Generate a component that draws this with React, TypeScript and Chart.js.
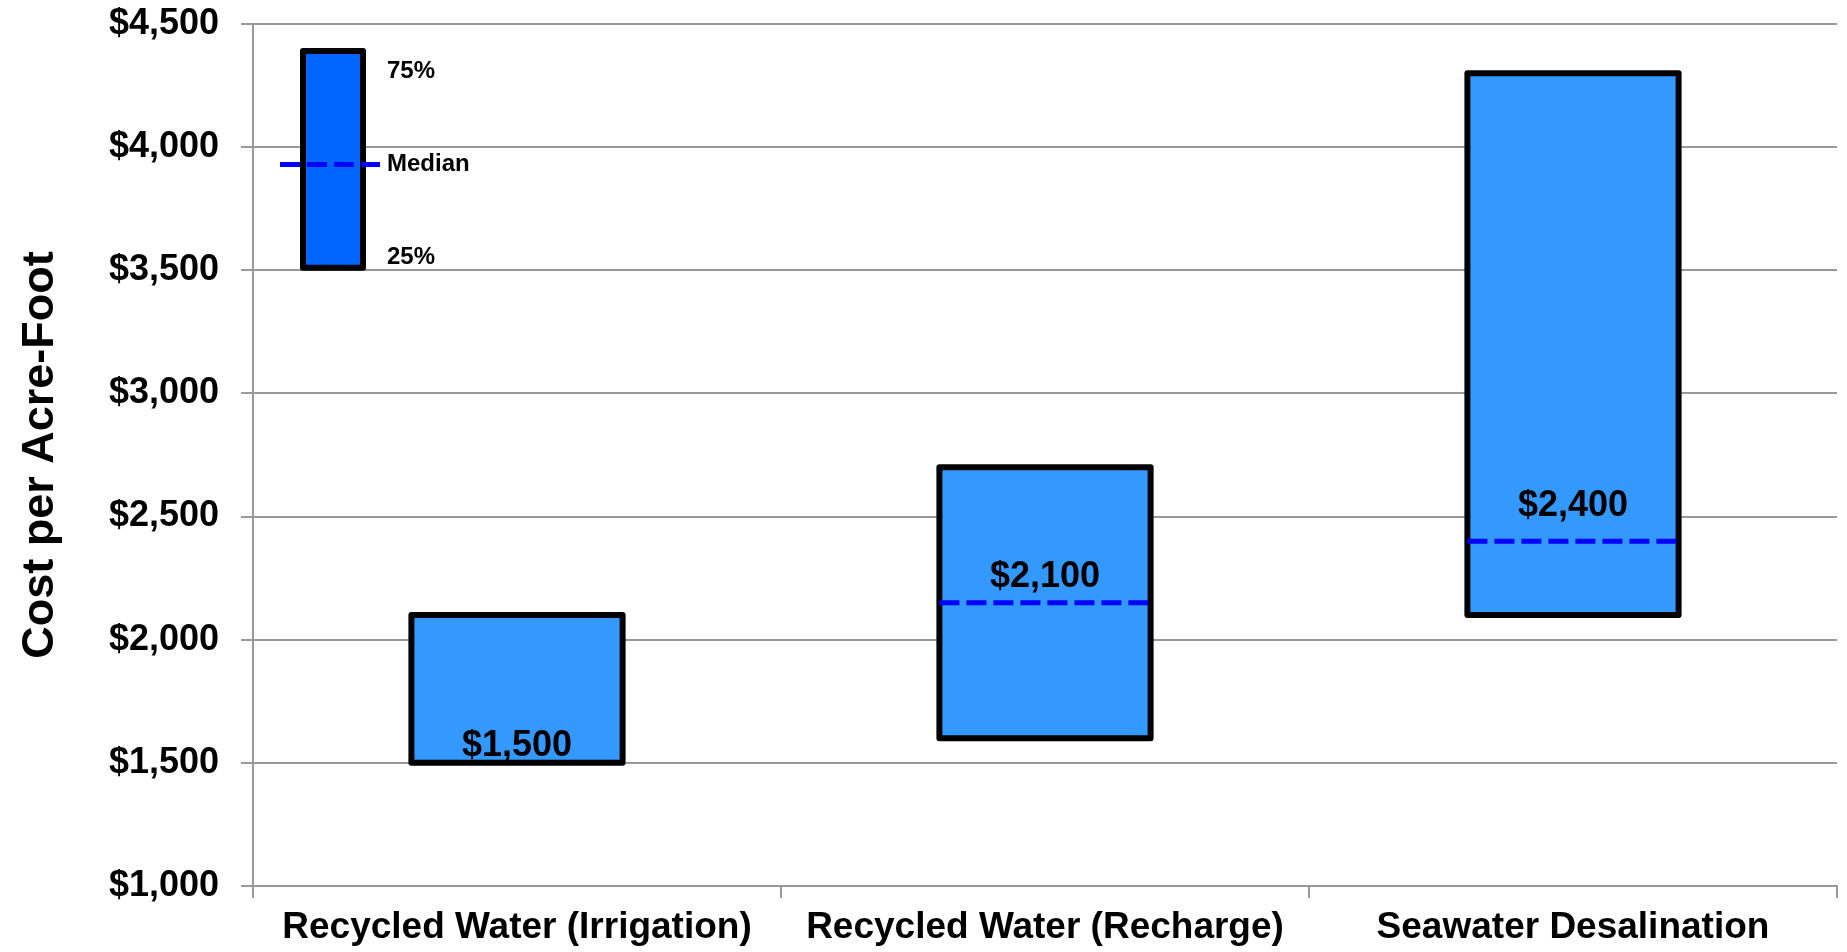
import React, { useEffect, useRef } from "react";
import { Chart, registerables } from "chart.js";

Chart.register(...registerables);

// ---- data ----
const categories = [
  "Recycled Water (Irrigation)",
  "Recycled Water (Recharge)",
  "Seawater Desalination",
];
const p25Values = [1500, 1600, 2100];
const p75Values = [2100, 2700, 4300];
const medianValues = [1500, 2150, 2400];
const medianLabels = ["$1,500", "$2,100", "$2,400"];
const yMin = 1000;
const yMax = 4500;
const yStep = 500;
const yTitle = "Cost per Acre-Foot";
// key box (drawn inside the plot, in axis units)
const keyTop = 4390;
const keyMedian = 3930;
const keyBottom = 3510;
const keyLabels = ["75%", "Median", "25%"];

// ---- styles ----
const FONT = "'Liberation Sans', Arial, Helvetica, sans-serif";
const BAR_FILL = "#3399FF";
const KEY_FILL = "#0066FF";
const MEDIAN_COLOR = "#0000FF";
const GRID = "#999999";
const BORDER_W = 6;
const labelOffsets = [7, 16, 25];

const overlayPlugin = {
  id: "overlay",
  afterDatasetsDraw(chart: any) {
    const ctx = chart.ctx as CanvasRenderingContext2D;
    const y = chart.scales.y;
    const area = chart.chartArea;
    const meta = chart.getDatasetMeta(0);
    ctx.save();
    // bar outlines (stroke centred on the value edges)
    meta.data.forEach((bar: any) => {
      const { x, y: yy, base, width } = bar.getProps(["x", "y", "base", "width"], true);
      const top = Math.min(yy, base);
      const bottom = Math.max(yy, base);
      ctx.lineWidth = BORDER_W;
      ctx.strokeStyle = "#000";
      ctx.lineJoin = "round";
      ctx.strokeRect(x - width / 2, top, width, bottom - top);
    });
    meta.data.forEach((bar: any, i: number) => {
      const { x, width } = bar.getProps(["x", "width"], true);
      const ym = y.getPixelForValue(medianValues[i]);
      if (medianValues[i] > p25Values[i]) {
        ctx.setLineDash([20, 7]);
        ctx.lineWidth = 5;
        ctx.strokeStyle = MEDIAN_COLOR;
        ctx.lineCap = "butt";
        ctx.beginPath();
        ctx.moveTo(x - width / 2, ym);
        ctx.lineTo(x + width / 2, ym);
        ctx.stroke();
      }
      ctx.setLineDash([]);
      ctx.font = `bold 36px ${FONT}`;
      ctx.fillStyle = "#000";
      ctx.textAlign = "center";
      ctx.textBaseline = "alphabetic";
      ctx.fillText(medianLabels[i], x, ym - labelOffsets[i]);
    });

    // key box
    const kx = area.left + 50;
    const kw = 60;
    const kt = y.getPixelForValue(keyTop);
    const kb = y.getPixelForValue(keyBottom);
    const km = y.getPixelForValue(keyMedian);
    ctx.fillStyle = KEY_FILL;
    ctx.fillRect(kx, kt, kw, kb - kt);
    ctx.lineWidth = BORDER_W;
    ctx.strokeStyle = "#000";
    ctx.lineJoin = "round";
    ctx.strokeRect(kx, kt, kw, kb - kt);
    ctx.setLineDash([20, 7]);
    ctx.strokeStyle = MEDIAN_COLOR;
    ctx.lineWidth = 5;
    ctx.beginPath();
    ctx.moveTo(area.left + 27, km);
    ctx.lineTo(area.left + 127, km);
    ctx.stroke();
    ctx.setLineDash([]);
    ctx.font = `bold 24px ${FONT}`;
    ctx.fillStyle = "#000";
    ctx.textAlign = "left";
    ctx.textBaseline = "middle";
    const lx = area.left + 134;
    ctx.fillText(keyLabels[0], lx, kt + 20);
    ctx.fillText(keyLabels[1], lx, km);
    ctx.fillText(keyLabels[2], lx, kb - 10);
    ctx.restore();
  },
};

export default function App() {
  const canvasRef = useRef<HTMLCanvasElement | null>(null);

  useEffect(() => {
    if (!canvasRef.current) return;
    const chart = new Chart(canvasRef.current, {
      type: "bar",
      data: {
        labels: categories,
        datasets: [
          {
            label: "25%-75%",
            data: p25Values.map((lo, i) => [lo, p75Values[i]]) as any,
            backgroundColor: BAR_FILL,
            borderWidth: 0,
            barPercentage: 0.4,
            categoryPercentage: 1,
          },
        ],
      },
      options: {
        animation: false,
        responsive: true,
        maintainAspectRatio: false,
        devicePixelRatio: 1,
        layout: { padding: { top: 24, right: 10, bottom: 0, left: 0 } },
        plugins: {
          legend: { display: false },
          tooltip: { enabled: false },
        },
        scales: {
          x: {
            ticks: {
              color: "#000",
              font: { family: FONT, size: 37, weight: "bold" },
              padding: 8,
              maxRotation: 0,
              autoSkip: false,
            },
            grid: {
              drawOnChartArea: false,
              drawTicks: true,
              tickLength: 12,
              color: GRID,
              lineWidth: 2,
              offset: true,
            },
            border: { color: GRID, width: 2 },
            afterFit: (s: any) => {
              s.height = 66;
              s.paddingLeft = 0;
              s.paddingRight = 0;
            },
          },
          y: {
            min: yMin,
            max: yMax,
            ticks: {
              stepSize: yStep,
              color: "#000",
              font: { family: FONT, size: 36, weight: "bold" },
              padding: 22,
              callback: (v: any) => "$" + Number(v).toLocaleString("en-US"),
            },
            grid: { color: GRID, lineWidth: 2, tickLength: 12, drawTicks: true },
            border: { color: GRID, width: 2 },
            title: {
              display: true,
              text: yTitle,
              color: "#000",
              font: { family: FONT, size: 45, weight: "bold" },
              padding: { top: 14, bottom: 0 },
            },
            afterFit: (s: any) => {
              s.width = 253;
              s.paddingTop = 0;
              s.paddingBottom = 0;
            },
          },
        },
      } as any,
      plugins: [overlayPlugin],
    });
    return () => chart.destroy();
  }, []);

  return (
    <div
      style={{
        position: "fixed",
        left: 0,
        top: 0,
        width: 1847,
        height: 952,
        background: "#fff",
      }}
    >
      <canvas ref={canvasRef} />
    </div>
  );
}
